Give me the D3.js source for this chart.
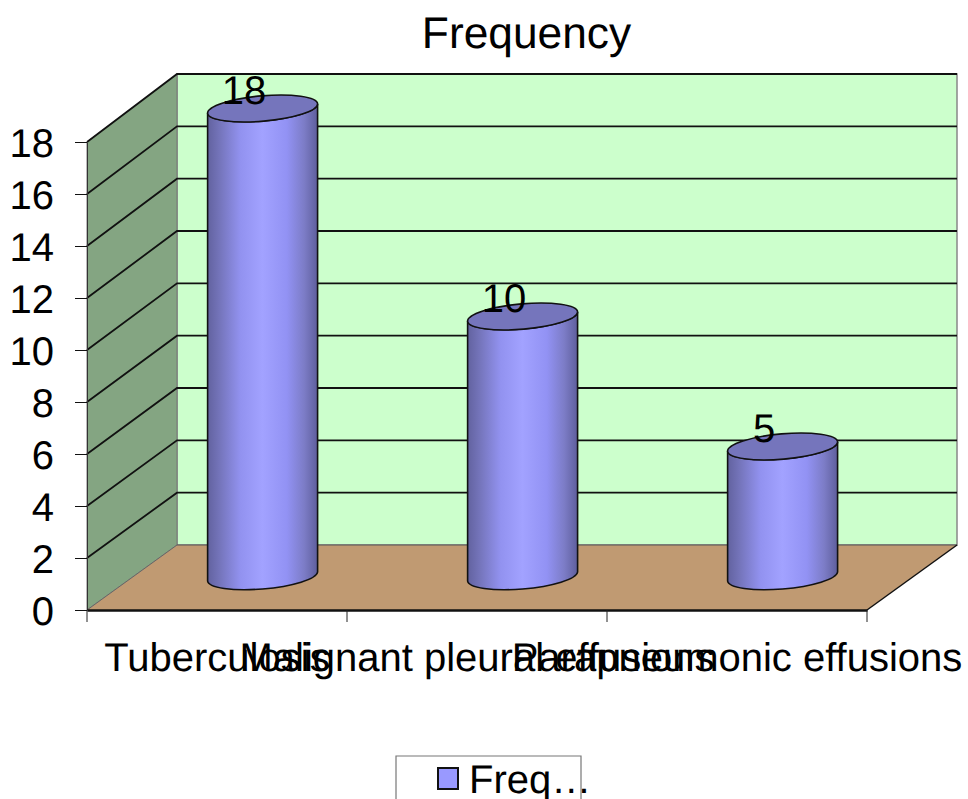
<!DOCTYPE html>
<html>
<head>
<meta charset="utf-8">
<script src="https://cdn.jsdelivr.net/npm/d3@7"></script>
<style>
  html, body { margin: 0; padding: 0; background: #fff; overflow: hidden; }
  text { font-family: "Liberation Sans", Arial, sans-serif; fill: #000; text-rendering: geometricPrecision; }
</style>
</head>
<body>
<div id="chart"></div>
<script>
// data
var categories = ["Tuberculosis", "Malignant pleural effusions", "Parapneumonic effusions"];
var values = [18, 10, 5];
var yTicks = [0, 2, 4, 6, 8, 10, 12, 14, 16, 18];
var seriesName = "Frequency";

var W = 968, H = 799;
var front = { left: 87, right: 867, top: 142, bottom: 610 };
var back = { left: 177, right: 957, top: 74, bottom: 545 };

var svg = d3.select("#chart").append("svg")
    .attr("width", W)
    .attr("height", H)
    .style("display", "block");

var x = d3.scaleBand().domain(categories).range([front.left, front.right]);
var y = d3.scaleLinear().domain([0, 18]).range([front.bottom, front.top]);
var yBack = d3.scaleLinear().domain([0, 18]).range([back.bottom, back.top]);

// cylinder gradient
var grad = svg.append("defs").append("linearGradient")
    .attr("id", "cyl").attr("x1", "0%").attr("x2", "100%").attr("y1", "0%").attr("y2", "0%");
[[0, "#62629f"], [0.12, "#7676bd"], [0.3, "#9292f0"], [0.5, "#a2a2ff"], [0.72, "#9292f4"], [0.88, "#7c7cc6"], [1, "#5e5e9c"]]
    .forEach(function (s) { grad.append("stop").attr("offset", s[0]).attr("stop-color", s[1]); });

var poly = function (pts) { return "M" + pts.map(function (p) { return p.join(","); }).join("L") + "Z"; };

// walls and floor
svg.append("path").attr("fill", "#ccffcc").attr("stroke", "#888").attr("stroke-width", 1.5)
    .attr("d", poly([[back.left, back.bottom], [back.right, back.bottom],
        [back.right, back.top], [back.left, back.top]]));
svg.append("path").attr("fill", "#84a582").attr("stroke", "#777").attr("stroke-width", 1)
    .attr("d", poly([[front.left, front.bottom], [back.left, back.bottom],
        [back.left, back.top], [front.left, front.top]]));
svg.append("path").attr("fill", "#c09a72")
    .attr("d", poly([[front.left, front.bottom], [front.right, front.bottom],
        [back.right, back.bottom], [back.left, back.bottom]]));

// gridlines, side wall then back wall
var grid = svg.append("g").attr("fill", "none").attr("stroke", "#111").attr("stroke-width", 1.8);
yTicks.forEach(function (t) {
    if (t > 0) {
        grid.append("path").attr("d", d3.line()([[front.left, y(t)], [back.left, yBack(t)], [back.right, yBack(t)]]));
    }
});
// floor edges
svg.append("line").attr("x1", back.left).attr("x2", back.right)
    .attr("y1", back.bottom).attr("y2", back.bottom)
    .attr("stroke", "#555").attr("stroke-width", 1);
svg.append("path").attr("fill", "none").attr("stroke", "#111").attr("stroke-width", 1.5)
    .attr("d", d3.line()([[front.right, front.bottom], [back.right, back.bottom]]));
svg.append("line").attr("x1", front.left).attr("x2", back.left)
    .attr("y1", front.bottom).attr("y2", back.bottom)
    .attr("stroke", "#666").attr("stroke-width", 1);

// axes
var yAxis = svg.append("g")
    .attr("transform", "translate(" + front.left + ",0)")
    .call(d3.axisLeft(y).tickValues(yTicks).tickSize(12).tickPadding(21).tickSizeOuter(0));
var xAxis = svg.append("g")
    .attr("transform", "translate(0," + front.bottom + ")")
    .call(d3.axisBottom(x).tickValues([]).tickSizeOuter(0));

// band edges carry the tick marks, not the centers
x.domain().concat([null]).forEach(function (c, i) {
    var px = front.left + i * x.bandwidth();
    xAxis.append("line").attr("x1", px).attr("x2", px).attr("y1", 0).attr("y2", 12)
        .attr("stroke", "#222").attr("stroke-width", 1);
});
categories.forEach(function (c) {
    xAxis.append("text").attr("x", x(c) + x.bandwidth() / 2).attr("y", 61)
        .attr("text-anchor", "middle").attr("font-size", 40).text(c);
});
xAxis.select(".domain").attr("stroke", "#111").attr("stroke-width", 2.5);
yAxis.select(".domain").attr("stroke", "#333").attr("stroke-width", 1);
yAxis.selectAll(".tick line").attr("stroke", "#111").attr("stroke-width", 1);
yAxis.selectAll(".tick text").attr("font-size", 40).attr("font-family", null).attr("dy", "0.35em");
svg.selectAll(".domain").attr("fill", "none");

// cylinders
var halfW = x.bandwidth() * 0.2115;
var rx = 55.2, ry = 12.7, tilt = -4.93, skew = 4.5;
var cyl = svg.append("g").selectAll("g")
    .data(values)
    .join("g");

var cx = function (i) { return x(categories[i]) + x.bandwidth() / 2 + (back.left - front.left) / 2 + 0.6; };
var baseY = (front.bottom + back.bottom) / 2 - 1;
var topY = function (d) { return baseY - (front.bottom - y(d)); };

cyl.append("path")
    .attr("fill", "url(#cyl)").attr("stroke", "#111").attr("stroke-width", 1.6)
    .attr("d", function (d, i) {
        var l = cx(i) - halfW, r = cx(i) + halfW;
        return "M" + l + "," + (topY(d) + skew) + "L" + l + "," + (baseY + skew)
            + "A" + rx + "," + ry + " " + tilt + " 0 0 " + r + "," + (baseY - skew)
            + "L" + r + "," + (topY(d) - skew)
            + "A" + rx + "," + ry + " " + tilt + " 0 1 " + l + "," + (topY(d) + skew) + "Z";
    });
cyl.append("ellipse")
    .attr("rx", rx).attr("ry", ry)
    .attr("transform", function (d, i) {
        return "translate(" + cx(i) + "," + topY(d) + ") rotate(" + tilt + ")";
    })
    .attr("fill", "#7575bc").attr("stroke", "#111").attr("stroke-width", 1.6);

// value labels sit over the cylinder tops
cyl.append("text")
    .attr("x", function (d, i) { return cx(i) - 18.6; })
    .attr("y", function (d) { return topY(d) - 5; })
    .attr("text-anchor", "middle").attr("font-size", 40)
    .text(function (d) { return d; });

// title
svg.append("text").attr("x", 526.5).attr("y", 48)
    .attr("text-anchor", "middle").attr("font-size", 44.3).text(seriesName);

// legend, clipped by the bottom of the page
var legend = svg.append("g");
legend.append("path").attr("fill", "#fff").attr("stroke", "#777").attr("stroke-width", 1.2)
    .attr("d", "M396,799V756H581V799");
legend.append("rect").attr("x", 438).attr("y", 768).attr("width", 20).attr("height", 21)
    .attr("fill", "#9999ff").attr("stroke", "#111").attr("stroke-width", 2);
legend.append("text").attr("x", 469).attr("y", 793).attr("font-size", 40)
    .text(seriesName.slice(0, 4) + "\u2026");
</script>
</body>
</html>
